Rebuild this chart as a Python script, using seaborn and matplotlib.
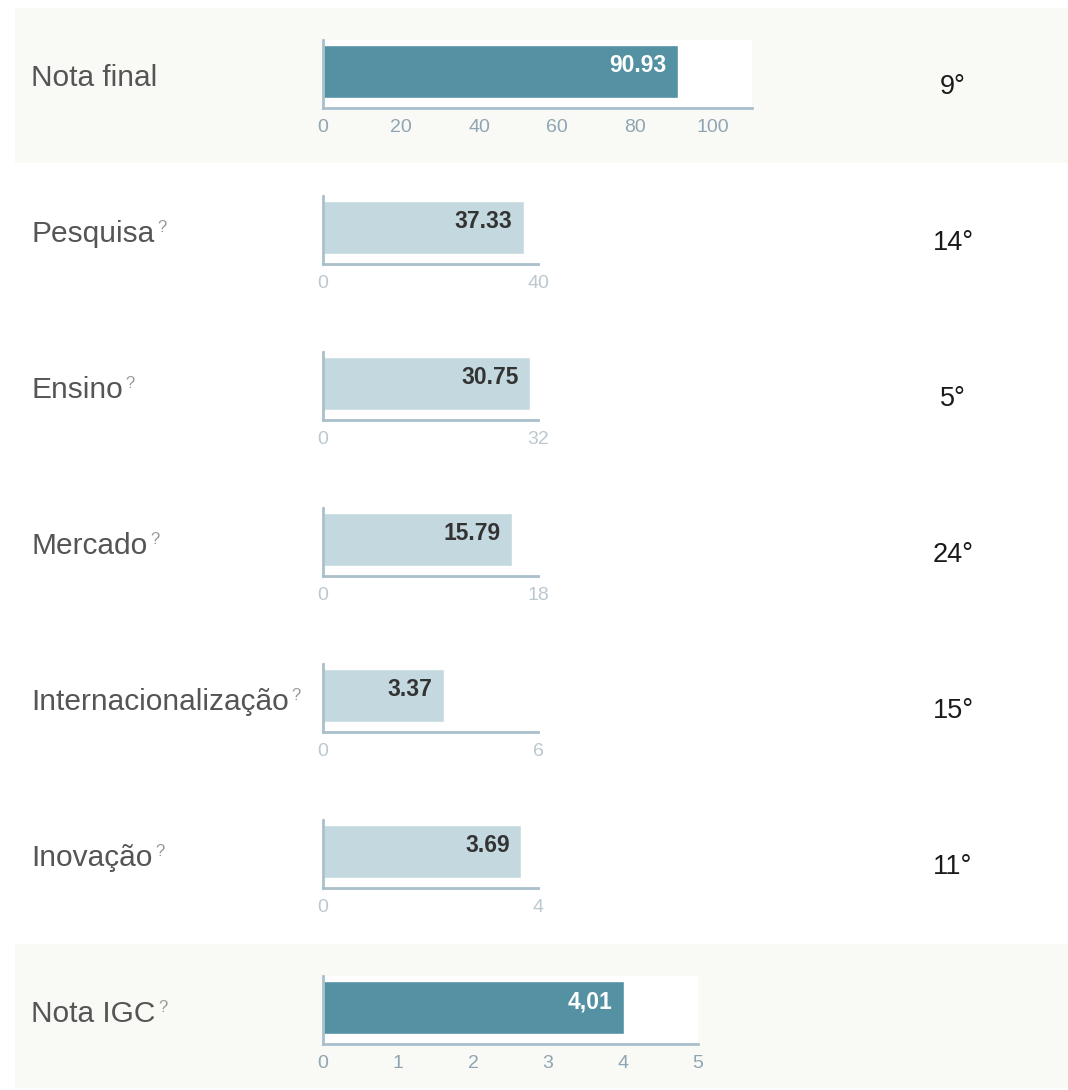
import pandas as pd
import matplotlib.pyplot as plt
import seaborn as sns
from matplotlib.patches import Rectangle

# Data
labels = ["Nota final", "Pesquisa", "Ensino", "Mercado",
          "Internacionalização", "Inovação", "Nota IGC"]
scores = [90.93, 37.33, 30.75, 15.79, 3.37, 3.69, 4.01]
score_text = ["90.93", "37.33", "30.75", "15.79", "3.37", "3.69", "4,01"]
x_limits = [110, 40, 32, 18, 6, 4, 5]
x_ticks = [[0, 20, 40, 60, 80, 100], [0, 40], [0, 32], [0, 18], [0, 6], [0, 4],
           [0, 1, 2, 3, 4, 5]]
ranks = ["9°", "14°", "5°", "24°", "15°", "11°", ""]
has_help = [False, True, True, True, True, True, True]
highlight = [True, False, False, False, False, False, True]

W, H = 1068, 1090
DARK = "#5391a3"
LIGHT = "#c4d9df"
SPINE = "#a9c0cc"
BG = "#f9f9f5"

sns.set_theme(style="white")
plt.rcParams['font.family'] = ['Liberation Sans', 'DejaVu Sans']

fig = plt.figure(figsize=(W / 100, H / 100), dpi=100)
fig.patch.set_facecolor("white")


def fx(x):
    return x / W


def fy(y):
    return 1 - y / H


# shaded rows (behind everything)
for top, bottom in [(8, 163), (944, 1088)]:
    fig.patches.append(Rectangle((fx(15), fy(bottom)), fx(1068) - fx(15),
                                 fy(top) - fy(bottom), transform=fig.transFigure,
                                 facecolor=BG, edgecolor="none", zorder=-5))

step = 156
for i, name in enumerate(labels):
    top = 40 + step * i
    bottom = top + 68
    if highlight[i] and i == 0:
        right = 752
    elif highlight[i]:
        right = 698
    else:
        right = 538
    ax = fig.add_axes([fx(323), fy(bottom), fx(right) - fx(323), fy(top) - fy(bottom)])
    ax.set_zorder(2)
    df = pd.DataFrame({"cat": [name], "val": [scores[i]]})
    sns.barplot(data=df, x="val", y="cat", orient="h", ax=ax,
                color=DARK if highlight[i] else LIGHT, width=0.78, saturation=1)
    ax.set_xlim(0, x_limits[i])
    ax.set_ylim(0.54, -0.46)
    ax.set_xticks(x_ticks[i])
    ax.set_xticklabels([str(t) for t in x_ticks[i]])
    ax.set_yticks([])
    ax.set_xlabel("")
    ax.set_ylabel("")
    ax.tick_params(axis="x", length=0, pad=8, labelsize=14,
                   labelcolor="#8fa5b3" if highlight[i] else "#bcc8cf")
    ax.set_facecolor("white" if highlight[i] else "none")
    for s in ["top", "right"]:
        ax.spines[s].set_visible(False)
    for s in ["left", "bottom"]:
        ax.spines[s].set_color(SPINE)
        ax.spines[s].set_linewidth(2)

    # value label inside bar
    ax.annotate(score_text[i], xy=(scores[i], 0), xytext=(-8, 4),
                textcoords="offset points", ha="right", va="center",
                fontsize=16.5, fontweight="bold",
                color="white" if highlight[i] else "#333333")

    # row label
    ty = 78 + step * i
    t = fig.text(fx(31), fy(ty), name, ha="left", va="center",
                 fontsize=21.5, color="#555555")
    if has_help[i]:
        fig.canvas.draw()
        bb = t.get_window_extent()
        fig.text(bb.x1 / W + fx(3), fy(ty - 6), "?", ha="left", va="center",
                 fontsize=12, color="#999999")

    # rank
    if ranks[i]:
        fig.text(fx(953), fy(87 + step * i), ranks[i], ha="center", va="center",
                 fontsize=19.5, color="#1a1a1a")

plt.savefig("out.png", dpi=100)
plt.close()
